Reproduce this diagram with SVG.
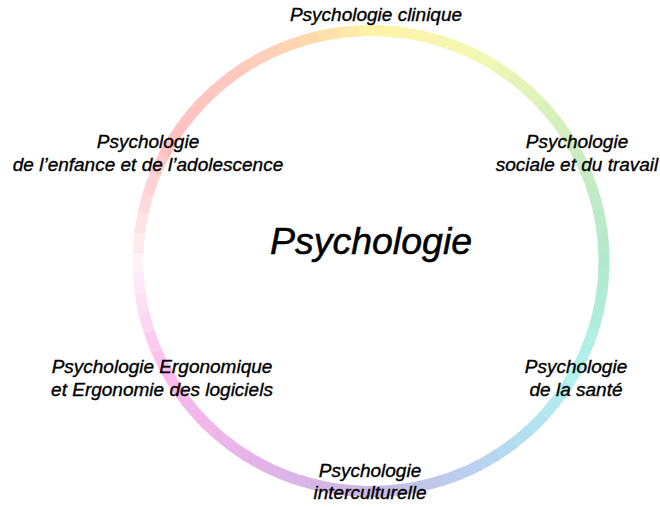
<svg xmlns="http://www.w3.org/2000/svg" xmlns:xlink="http://www.w3.org/1999/xlink" width="660" height="507" viewBox="0 0 660 507">
<style>
.t{font-family:"Liberation Sans",Arial,sans-serif;font-style:italic;font-size:19px;fill:#000;stroke:#000;stroke-width:0.35;text-anchor:middle}
.c{font-size:37.5px;stroke-width:0.5}
</style>
<defs>
<ellipse id="r" cx="371" cy="261" rx="233" ry="230.5" fill="none" stroke-width="11" pathLength="360" stroke-dasharray="6 354"/>
</defs>
<rect width="660" height="507" fill="#fff"/>
<g id="ring">
<use href="#r" stroke="#b2e8cc" stroke-dashoffset="3"/>
<use href="#r" stroke="#b2ead2" stroke-dashoffset="-2"/>
<use href="#r" stroke="#b1ebd7" stroke-dashoffset="-7"/>
<use href="#r" stroke="#b1eddd" stroke-dashoffset="-12"/>
<use href="#r" stroke="#b1efe3" stroke-dashoffset="-17"/>
<use href="#r" stroke="#b0f0e8" stroke-dashoffset="-22"/>
<use href="#r" stroke="#b0f2ee" stroke-dashoffset="-27"/>
<use href="#r" stroke="#b1edee" stroke-dashoffset="-32"/>
<use href="#r" stroke="#b2e9ef" stroke-dashoffset="-37"/>
<use href="#r" stroke="#b3e4ef" stroke-dashoffset="-42"/>
<use href="#r" stroke="#b4dfef" stroke-dashoffset="-47"/>
<use href="#r" stroke="#b5dbf0" stroke-dashoffset="-52"/>
<use href="#r" stroke="#b6d6f0" stroke-dashoffset="-57"/>
<use href="#r" stroke="#b9d1ee" stroke-dashoffset="-62"/>
<use href="#r" stroke="#bccCec" stroke-dashoffset="-67"/>
<use href="#r" stroke="#bfc7ea" stroke-dashoffset="-72"/>
<use href="#r" stroke="#c2c2e8" stroke-dashoffset="-77"/>
<use href="#r" stroke="#c5bde6" stroke-dashoffset="-82"/>
<use href="#r" stroke="#c8b8e4" stroke-dashoffset="-87"/>
<use href="#r" stroke="#cdb7e5" stroke-dashoffset="-92"/>
<use href="#r" stroke="#d1b7e5" stroke-dashoffset="-97"/>
<use href="#r" stroke="#d6b6e6" stroke-dashoffset="-102"/>
<use href="#r" stroke="#dbb5e7" stroke-dashoffset="-107"/>
<use href="#r" stroke="#dfb5e7" stroke-dashoffset="-112"/>
<use href="#r" stroke="#e4b4e8" stroke-dashoffset="-117"/>
<use href="#r" stroke="#e8b5e9" stroke-dashoffset="-122"/>
<use href="#r" stroke="#ecb5e9" stroke-dashoffset="-127"/>
<use href="#r" stroke="#f0b6ea" stroke-dashoffset="-132"/>
<use href="#r" stroke="#f3b7eb" stroke-dashoffset="-137"/>
<use href="#r" stroke="#f7b7eb" stroke-dashoffset="-142"/>
<use href="#r" stroke="#fbb8ec" stroke-dashoffset="-147"/>
<use href="#r" stroke="#fbc2ee" stroke-dashoffset="-152"/>
<use href="#r" stroke="#fcccf0" stroke-dashoffset="-157"/>
<use href="#r" stroke="#fcd6f2" stroke-dashoffset="-162"/>
<use href="#r" stroke="#fce0f4" stroke-dashoffset="-167"/>
<use href="#r" stroke="#fdeaf6" stroke-dashoffset="-172"/>
<use href="#r" stroke="#fdf4f8" stroke-dashoffset="-177"/>
<use href="#r" stroke="#fdebef" stroke-dashoffset="-182"/>
<use href="#r" stroke="#fee3e5" stroke-dashoffset="-187"/>
<use href="#r" stroke="#fedadc" stroke-dashoffset="-192"/>
<use href="#r" stroke="#fed1d3" stroke-dashoffset="-197"/>
<use href="#r" stroke="#ffc9c9" stroke-dashoffset="-202"/>
<use href="#r" stroke="#ffc0c0" stroke-dashoffset="-207"/>
<use href="#r" stroke="#ffc2c0" stroke-dashoffset="-212"/>
<use href="#r" stroke="#ffc4c0" stroke-dashoffset="-217"/>
<use href="#r" stroke="#ffc6bf" stroke-dashoffset="-222"/>
<use href="#r" stroke="#fec8be" stroke-dashoffset="-227"/>
<use href="#r" stroke="#fecabd" stroke-dashoffset="-232"/>
<use href="#r" stroke="#fecdbc" stroke-dashoffset="-237"/>
<use href="#r" stroke="#fed1b8" stroke-dashoffset="-242"/>
<use href="#r" stroke="#fed5b2" stroke-dashoffset="-247"/>
<use href="#r" stroke="#fed9ac" stroke-dashoffset="-252"/>
<use href="#r" stroke="#fee1ab" stroke-dashoffset="-257"/>
<use href="#r" stroke="#ffeaa9" stroke-dashoffset="-262"/>
<use href="#r" stroke="#fff3a8" stroke-dashoffset="-267"/>
<use href="#r" stroke="#fdf4aa" stroke-dashoffset="-272"/>
<use href="#r" stroke="#faf5ac" stroke-dashoffset="-277"/>
<use href="#r" stroke="#f8f6ae" stroke-dashoffset="-282"/>
<use href="#r" stroke="#f5f6b0" stroke-dashoffset="-287"/>
<use href="#r" stroke="#f3f7b2" stroke-dashoffset="-292"/>
<use href="#r" stroke="#f0f8b4" stroke-dashoffset="-297"/>
<use href="#r" stroke="#eaf6b6" stroke-dashoffset="-302"/>
<use href="#r" stroke="#e4f4b8" stroke-dashoffset="-307"/>
<use href="#r" stroke="#dff3ba" stroke-dashoffset="-312"/>
<use href="#r" stroke="#d9f1bc" stroke-dashoffset="-317"/>
<use href="#r" stroke="#d3efbe" stroke-dashoffset="-322"/>
<use href="#r" stroke="#cdedc0" stroke-dashoffset="-327"/>
<use href="#r" stroke="#c9ecc2" stroke-dashoffset="-332"/>
<use href="#r" stroke="#c4ebc4" stroke-dashoffset="-337"/>
<use href="#r" stroke="#c0ebc6" stroke-dashoffset="-342"/>
<use href="#r" stroke="#bbeac8" stroke-dashoffset="-347"/>
<use href="#r" stroke="#b7e9ca" stroke-dashoffset="-352"/>
</g>
<g id="connectors"></g>
<g id="center"><text class="t c" x="371" y="254">Psychologie</text></g>
<g id="clinique"><text class="t" x="376" y="21">Psychologie clinique</text></g>
<g id="enfance"><text class="t" x="148" y="148">Psychologie</text><text class="t" x="148" y="171">de l’enfance et de l’adolescence</text></g>
<g id="sociale"><text class="t" x="577" y="148">Psychologie</text><text class="t" x="577" y="171">sociale et du travail</text></g>
<g id="ergonomie"><text class="t" x="162" y="373">Psychologie Ergonomique</text><text class="t" x="162" y="396">et Ergonomie des logiciels</text></g>
<g id="sante"><text class="t" x="576" y="373">Psychologie</text><text class="t" x="576" y="396">de la santé</text></g>
<g id="interculturelle"><text class="t" x="370" y="477">Psychologie</text><text class="t" x="370" y="499">interculturelle</text></g>
</svg>
